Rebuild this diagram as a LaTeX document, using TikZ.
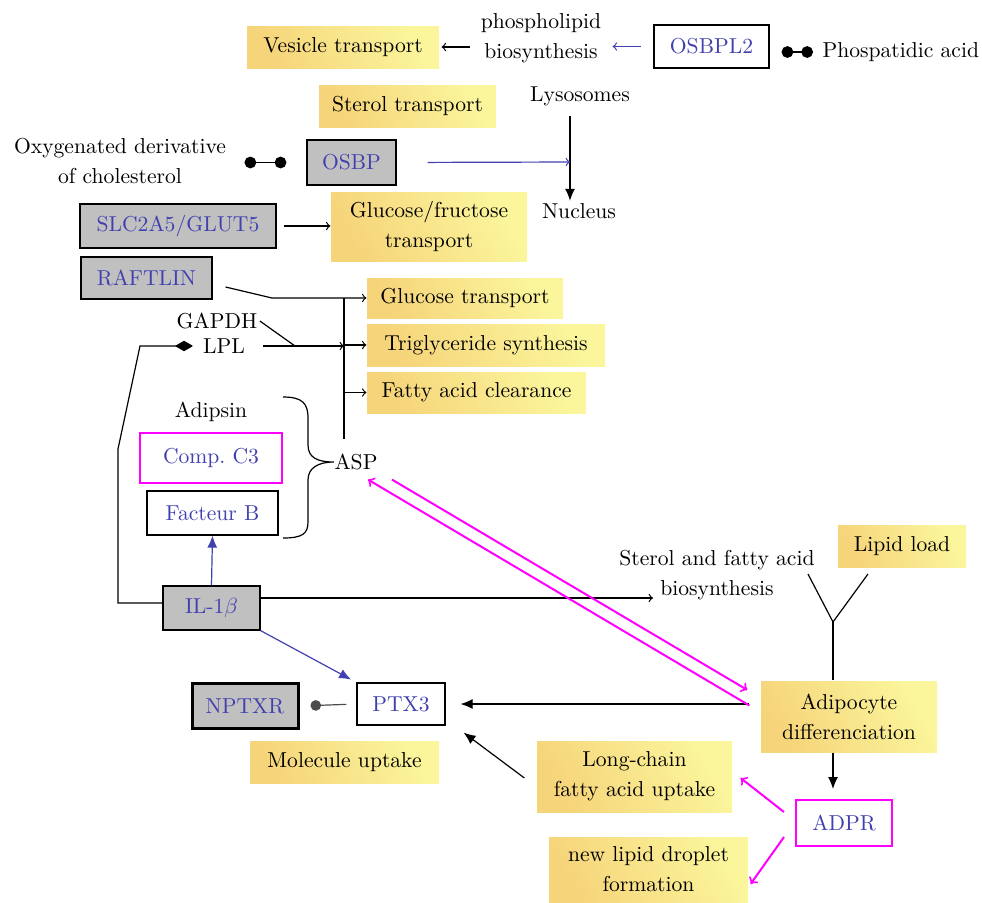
\documentclass[tikz,border=0pt]{standalone}
\usepackage{amsmath}
\usepackage{tikz}
\usetikzlibrary{arrows, arrows.meta, positioning, calc, shapes.geometric}

\definecolor{geneblue}{RGB}{64,64,176}
\definecolor{ydark}{RGB}{246,212,122}
\definecolor{ylight}{RGB}{251,246,156}
\definecolor{boxgrey}{RGB}{192,192,192}
\definecolor{magline}{RGB}{255,0,255}

\begin{document}
\begin{tikzpicture}[
        x=0.5pt, y=-0.5pt,
        line width=0.6pt,
        font=\fontsize{10.8}{15}\selectfont,
        yel/.style={rectangle, top color=ylight, bottom color=ydark, shading angle=-60, minimum height=21pt, align=center, inner sep=2pt},
        gene/.style={rectangle, draw, fill=white, text=geneblue, minimum height=22pt, align=center},
        grey/.style={gene, fill=boxgrey},
        lbl/.style={inner sep=1pt, align=center},
        arr/.style={->, >=to},
        tri/.style={-{Latex[length=6pt, width=5pt]}},
        blu/.style={->, >=to, geneblue},
        blutri/.style={-{Latex[length=6pt, width=5pt]}, geneblue},
        mag/.style={->, >=to, magline, line width=1pt},
        bind/.style={*-*, line width=0.8pt}
    ]
        \useasboundingbox (0,0) rectangle (982,902);

        % top row
        \node[yel, minimum width=96pt] (vesicle) at (343,47) {Vesicle transport};
        \node[lbl] (phospho) at (541,38) {phospholipid\\biosynthesis};
        \node[gene, minimum width=57.5pt, minimum height=21.5pt] (osbpl2) at (711.5,46.5) {OSBPL2};
        \node[lbl, anchor=west] (phosacid) at (820,52) {Phospatidic acid};
        \node[yel, minimum width=88.5pt] (sterol) at (407.5,106) {Sterol transport};
        \node[lbl] (lyso) at (580,96) {Lysosomes};
        \node[lbl] (nucleus) at (579,211) {Nucleus};
        \node[grey, minimum width=44.5pt, minimum height=22.5pt] (osbp) at (351.5,162.5) {OSBP};
        \node[lbl] (oxy) at (120,161) {Oxygenated derivative\\of cholesterol};
        \node[grey, minimum width=98pt] (slc) at (178,226) {SLC2A5/GLUT5};
        \node[yel, minimum width=98pt, minimum height=34.5pt] (glufru) at (429,226.5) {Glucose/fructose\\transport};

        % middle
        \node[grey, minimum width=65.5pt, minimum height=21pt] (raftlin) at (146.5,278) {RAFTLIN};
        \node[yel, minimum width=98pt, minimum height=20pt] (glut) at (465,298) {Glucose transport};
        \node[yel, minimum width=119pt] (trig) at (486,345) {Triglyceride synthesis};
        \node[yel, minimum width=109.5pt, minimum height=20.5pt] (fac) at (476.5,392.5) {Fatty acid clearance};
        \node[lbl] (gapdh) at (217,321) {GAPDH};
        \node[lbl] (lpl) at (224,346) {LPL};
        \node[lbl] (adipsin) at (211,412) {Adipsin};
        \node[gene, draw=magline, line width=1pt, minimum width=71pt, minimum height=25pt] (compc3) at (211,458) {Comp.\ C3};
        \node[gene, minimum width=65.5pt] (factb) at (212.5,513) {Facteur B};
        \node[lbl, inner sep=0pt] (asp) at (356,462) {ASP};
        \node[grey, minimum width=48.5pt] (il1b) at (211.5,608) {IL-1$\beta$};

        % bottom
        \node[gene, minimum width=44pt, minimum height=21pt] (ptx3) at (401,704) {PTX3};
        \node[grey, line width=1.5pt, minimum width=53pt, minimum height=22.5pt] (nptxr) at (245,706) {NPTXR};
        \node[yel, minimum width=94.5pt] (molecule) at (344.5,762.5) {Molecule uptake};
        \node[lbl] (sterolfa) at (717,575) {Sterol and fatty acid\\biosynthesis};
        \node[yel, minimum width=64pt] (lipid) at (902,546) {Lipid load};
        \node[yel, minimum width=88pt, minimum height=35.5pt] (adip) at (849,716.5) {Adipocyte\\differenciation};
        \node[gene, draw=magline, line width=1pt, minimum width=48pt, minimum height=23pt] (adpr) at (844,823) {ADPR};
        \node[yel, minimum width=97.5pt, minimum height=35.5pt] (longchain) at (634.5,776.5) {Long-chain\\fatty acid uptake};
        \node[yel, minimum width=99.5pt, minimum height=32.5pt] (newlipid) at (648.5,869.5) {new lipid droplet\\formation};

        \coordinate (join) at (570,162);
        \coordinate (bus) at (344,298);
        \coordinate (rbend) at (272,298);
        \coordinate (gj) at (295,346);
        \coordinate (sfa) at (653,598);
        \coordinate (fork) at (833,622);
        \coordinate (forkl) at (808,574);
        \coordinate (forkr) at (868,574);

        % top connectors
        \draw[blu, shorten <=6pt, shorten >=4.5pt] (osbpl2.west) -- (phospho.east |- osbpl2.west);
        \draw[arr, shorten <=4pt, shorten >=1pt] (phospho.west |- vesicle.east) -- (vesicle.east);
        \draw[bind, shorten <=6pt, shorten >=3.5pt] (osbpl2.east |- phosacid.west) -- (phosacid.west);
        \draw[tri, shorten <=4pt] (lyso.south -| join) -- (nucleus.north -| join);
        \draw[blu, shorten <=15.5pt] (osbp.east) -- (join);
        \draw[bind, shorten <=8pt, shorten >=10pt] (oxy.east |- osbp.west) -- (osbp.west);
        \draw[arr, shorten <=3.5pt] (slc.east) -- (glufru.west |- slc.east);

        % bus to the yellow boxes
        \draw[arr] ($(raftlin.east)+(13,9)$) -- (rbend) -- (glut.west);
        \draw[shorten >=7pt] (bus) -- (bus |- asp.north);
        \draw[arr, shorten <=8pt] (lpl.east) -- (lpl.east -| bus);
        \draw[arr] (trig.west -| bus) -- (trig.west);
        \draw[arr] (fac.west -| bus) -- (fac.west);
        \draw (gapdh.east) -- (gj);
        \draw[-diamond, shorten >=4pt] ([yshift=2.5pt]il1b.west) -- (118,603) -- (118,449) -- (140,346) -- (lpl.west);

        % brace
        \draw (283,397) .. controls (302,397) and (308,403) .. (308,418) -- (308,445)
            .. controls (308,458) and (318,462) .. (asp.west)
            .. controls (318,462) and (308,468) .. (308,480) -- (308,522)
            .. controls (308,534) and (302,538) .. (283,538);

        % IL-1b
        \draw[arr] ([yshift=5pt]il1b.east) -- (sfa);
        \draw[blutri] (il1b.north) -- (factb.south);
        \draw[blutri, shorten >=3pt] (il1b.south east) -- (ptx3.north west);
        \draw[-*, black!70, shorten <=5pt, shorten >=5.5pt] (ptx3.west) -- (nptxr.east);

        % adipocyte
        \draw (forkl) -- (fork) -- (forkr);
        \draw (fork) -- (fork |- adip.north);
        \draw[tri, shorten >=5pt] (adip.south -| fork) -- (adpr.north -| fork);
        \draw[tri] ([xshift=-5.5pt]adip.west |- ptx3.east) -- ([xshift=7.5pt]ptx3.east);
        \draw[mag] ($(adip.west)+(-11,-11)$) -- ($(asp.south)+(12,9)$);
        \draw[mag] ($(asp.south)+(36,9)$) -- ($(adip.west)+(-13,-26.5)$);
        \draw[mag] ($(adpr.west)+(-11,-11)$) -- ($(longchain.east)+(8,1.5)$);
        \draw[mag] ($(adpr.west)+(-11,14)$) -- ($(newlipid.east)+(2,14.5)$);
        \draw[tri] ($(longchain.west)+(-12,1.5)$) -- ($(ptx3.south east)+(18,7)$);
    \end{tikzpicture}
\end{document}
